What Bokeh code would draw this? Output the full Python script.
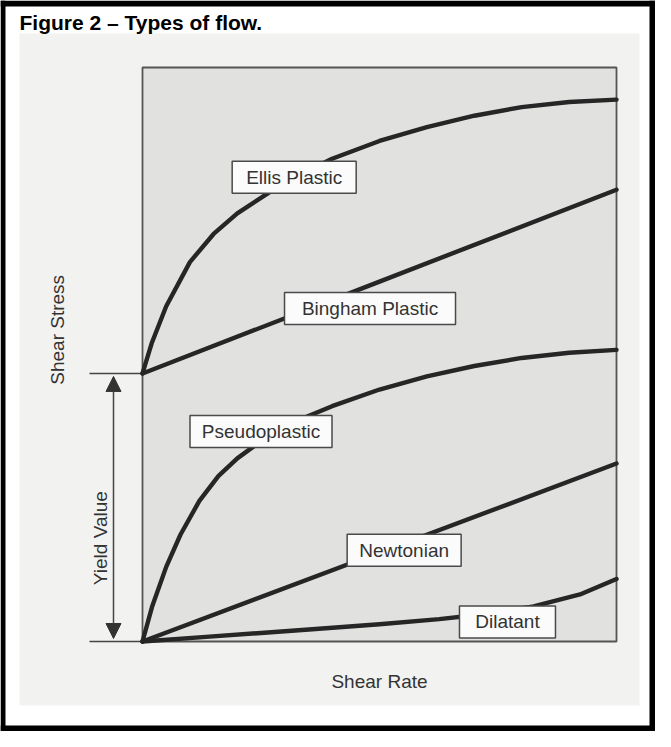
import math
from bokeh.plotting import figure
from bokeh.models import Range1d, Arrow, NormalHead
from bokeh.core.properties import value
from bokeh.embed import file_html
from bokeh.resources import INLINE

# ---- data (x: shear rate, % of plot width; y: shear stress, % of plot height) ----
yield_value = 46.7

ellis_x = [0, 2, 5, 10, 15, 20, 30, 40, 50, 60, 70, 80, 90, 100]
ellis_y = [46.7, 52.1, 58.4, 66.1, 71.0, 74.6, 80.0, 84.1, 87.2, 89.6, 91.6, 93.1, 94.0, 94.4]

bingham_x = [0, 50, 100]
bingham_y = [46.7, 62.7, 78.7]

pseudo_x = [0, 2, 5, 8, 12, 16, 20, 25, 30, 35, 40, 50, 60, 70, 80, 90, 100]
pseudo_y = [0, 6.0, 13.0, 18.6, 24.5, 28.8, 31.9, 34.9, 37.3, 39.3, 41.0, 43.9, 46.2, 48.0, 49.4, 50.3, 50.8]

newton_x = [0, 50, 100]
newton_y = [0, 15.5, 31.0]

dilat_x = [0, 13.4, 35.1, 50, 62.6, 72.4, 82.5, 92.3, 100]
dilat_y = [0, 0.8, 2.1, 3.0, 3.9, 4.8, 6.1, 8.2, 10.9]

labels = ["Ellis Plastic", "Bingham Plastic", "Pseudoplastic", "Newtonian", "Dilatant"]
label_x = [32.0, 48.0, 25.0, 55.2, 77.0]
label_y = [80.9, 58.0, 36.6, 15.9, 3.4]
label_w = [124, 171, 142, 114, 96]

title_text = "Figure 2 \u2013 Types of flow."
x_label = "Shear Rate"
y_label = "Shear Stress"
yield_label = "Yield Value"

# ---- layout (page pixels) ----
W, H = 655, 731
PL, PR, PT, PB = 150, 624, 75, 649          # plot area box
sx = (PR - PL) / 100.0
sy = (PB - PT) / 100.0
def dx(px):
    return (px - PL) / sx
def dy(py):
    return (PB - py) / sy

p = figure(width=W, height=H, output_backend="svg", toolbar_location=None,
           x_range=Range1d(dx(8), dx(8 + W)), y_range=Range1d(dy(8 + H), dy(8)),
           min_border=0, min_border_left=0, min_border_right=0,
           min_border_top=0, min_border_bottom=0)
p.axis.visible = False
p.grid.visible = False
p.outline_line_color = None
p.background_fill_color = "white"
p.border_fill_color = "white"

FONT = value("Liberation Sans")

# outer black frame
p.quad(left=[dx(8), dx(8), dx(657), dx(8)],
       right=[dx(13), dx(663), dx(663), dx(663)],
       top=[dy(8), dy(8), dy(8), dy(733)],
       bottom=[dy(739), dy(14), dy(739), dy(739)],
       fill_color="black", line_color=None)

# light scanned region
p.quad(left=[dx(27)], right=[dx(647)], top=[dy(41)], bottom=[dy(713)],
       fill_color="#f2f2f1", line_color=None)

# plot area
p.quad(left=[0], right=[100], top=[100], bottom=[0],
       fill_color="#e1e1e0", line_color="#555555", line_width=1.8)

# yield ticks
p.segment(x0=[dx(97), dx(97)], x1=[0, 0], y0=[yield_value, 0], y1=[yield_value, 0],
          line_color="#444444", line_width=1.5)

# yield arrow
p.add_layout(Arrow(x_start=dx(121), y_start=dy(PB - 3), x_end=dx(121), y_end=yield_value - 3 / sy,
                   start=NormalHead(size=15, fill_color="#333333", line_color="#333333"),
                   end=NormalHead(size=15, fill_color="#333333", line_color="#333333"),
                   line_color="#444444", line_width=1.5))

# curves
curve_style = dict(line_color="#262626", line_width=4.4, line_cap="round", line_join="round")
p.line(ellis_x, ellis_y, **curve_style)
p.line(bingham_x, bingham_y, **curve_style)
p.line(pseudo_x, pseudo_y, **curve_style)
p.line(newton_x, newton_y, **curve_style)
p.line(dilat_x, dilat_y, **curve_style)

# label boxes
p.rect(x=label_x, y=label_y, width=label_w, height=[32] * len(labels),
       width_units="screen", height_units="screen",
       fill_color="#fbfbfb", line_color="#4a4a4a", line_width=1.5)
p.text(x=label_x, y=label_y, text=labels, text_font=FONT, text_font_size="19px",
       text_color="#333333", text_align="center", text_baseline="middle")

# title
p.text(x=[dx(27)], y=[dy(30)], text=[title_text], text_font=FONT, text_font_size="21px",
       text_font_style="bold", text_color="black", text_align="left", text_baseline="alphabetic")

# axis labels
p.text(x=[50], y=[dy(PB + 40)], text=[x_label], text_font=FONT, text_font_size="19px",
       text_color="#333333", text_align="center", text_baseline="middle")
p.text(x=[dx(65)], y=[54.3], text=[y_label], text_font=FONT, text_font_size="19px",
       text_color="#333333", text_align="center", text_baseline="middle", angle=math.pi / 2)
p.text(x=[dx(108)], y=[18.0], text=[yield_label], text_font=FONT, text_font_size="19px",
       text_color="#333333", text_align="center", text_baseline="middle", angle=math.pi / 2)

open("out.html", "w").write(file_html(p, INLINE))
